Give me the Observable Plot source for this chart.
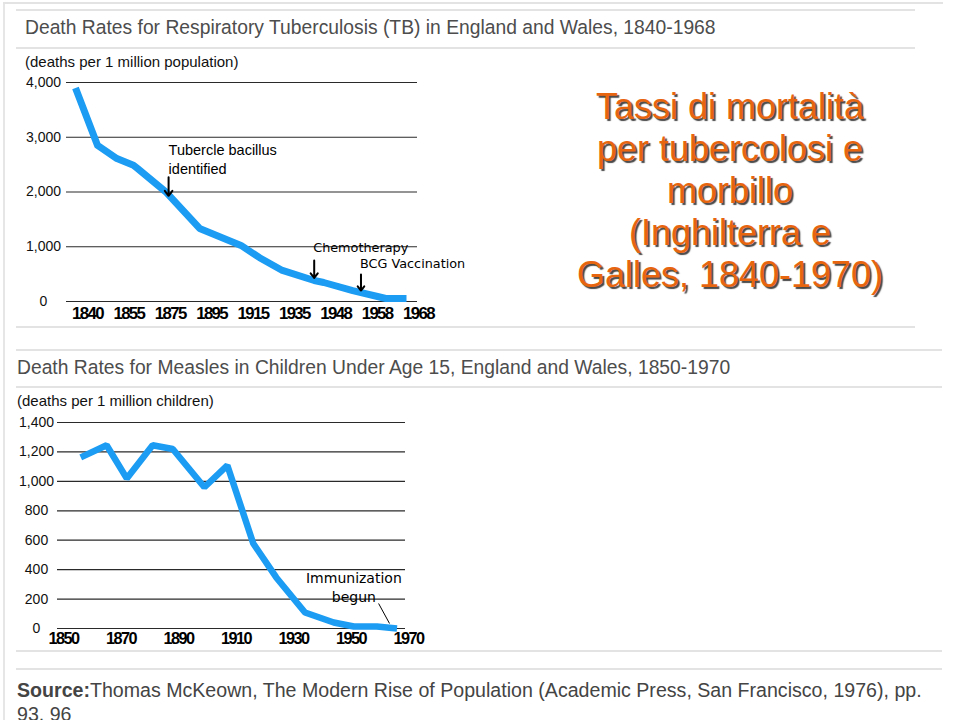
<!DOCTYPE html>
<html>
<head>
<meta charset="utf-8">
<script src="https://cdn.jsdelivr.net/npm/d3@7"></script>
<script src="https://cdn.jsdelivr.net/npm/@observablehq/plot@0.6"></script>
<style>
  html, body { margin: 0; padding: 0; background: #fff; }
  #page { position: relative; width: 960px; height: 720px; overflow: hidden; font-family: "Liberation Sans", Arial, sans-serif; background: #fff; }
  .hl { position: absolute; height: 2px; background: #e3e3e3; }
  .vl { position: absolute; width: 2px; background: #e6e6e6; }
  .title { position: absolute; color: #4d4d4d; font-size: 19.3px; white-space: nowrap; }
  .unit { position: absolute; color: #111; font-size: 15px; white-space: nowrap; }
  #slideTitle { position: absolute; left: 530px; width: 400px; top: 86px; text-align: center; font-size: 36px; line-height: 42px; color: #e8650f; text-shadow: 2px 2px 1px rgba(40,40,40,0.85); }
  #source { position: absolute; left: 17px; top: 678px; white-space: nowrap; font-family: "Liberation Sans", Arial, sans-serif; font-size: 19.6px; line-height: 24px; color: #444; }
  .chart { position: absolute; }
  .chart [aria-label="x-axis tick label"] text { letter-spacing: -1.6px; }
</style>
</head>
<body>
<div id="page">
  <div class="vl" style="left:3px; top:3px; height:717px;"></div>
  <div class="hl" style="left:3px; top:2px; width:940px;"></div>
  <div class="hl" style="left:16px; top:9px; width:899px;"></div>
  <div class="hl" style="left:16px; top:47px; width:899px;"></div>
  <div class="hl" style="left:16px; top:326px; width:899px;"></div>
  <div class="hl" style="left:16px; top:349px; width:926px;"></div>
  <div class="hl" style="left:16px; top:386px; width:926px;"></div>
  <div class="hl" style="left:16px; top:650px; width:926px;"></div>
  <div class="hl" style="left:16px; top:668px; width:926px;"></div>

  <div class="title" style="left:25px; top:17px;">Death Rates for Respiratory Tuberculosis (TB) in England and Wales, 1840-1968</div>
  <div class="unit" style="left:25px; top:53px;">(deaths per 1 million population)</div>
  <div class="chart" id="tb" style="left:0px; top:50px;"></div>

  <div class="title" style="left:17px; top:357px;">Death Rates for Measles in Children Under Age 15, England and Wales, 1850-1970</div>
  <div class="unit" style="left:17px; top:392px;">(deaths per 1 million children)</div>
  <div class="chart" id="measles" style="left:0px; top:400px;"></div>

  <div id="slideTitle">Tassi di mortalità<br>per tubercolosi e<br>morbillo<br>(Inghilterra e<br>Galles, 1840-1970)</div>

  <div id="source"><b>Source:</b>Thomas McKeown, The Modern Rise of Population (Academic Press, San Francisco, 1976), pp.<br>93, 96</div>
</div>
<script>
// ---------- Tuberculosis (deaths per 1 million population) ----------
const tbYears = [1840, 1848, 1855, 1863, 1865, 1879, 1895, 1915, 1924, 1935, 1945, 1948, 1955, 1961, 1963, 1968];
const tbRates = [3900, 2850, 2610, 2490, 2430, 1990, 1335, 1024, 800, 567, 384, 347, 200, 91, 55, 55];
const tbXTicks = [1840, 1855, 1875, 1895, 1915, 1935, 1948, 1958, 1968];
const tbYTicks = [0, 1000, 2000, 3000, 4000];
const tbEventYears = [1880, 1945, 1957];
const tbEventLabels = ["Tubercle bacillus\nidentified", "Chemotherapy", "BCG Vaccination"];
const tbEventArrowTop = [2270, 750, 495];
const tbEventArrowTip = [1930, 430, 200];
const tbEventLabelY = [2605, 987, 695];

// ---------- Measles (deaths per 1 million children) ----------
const measlesYears = [1856, 1865, 1872, 1881, 1888, 1899, 1907, 1916, 1924, 1934, 1944, 1951, 1959, 1966];
const measlesRates = [1163, 1245, 1020, 1245, 1220, 960, 1108, 578, 347, 109, 41, 14, 14, 0];
const measlesXTicks = [1850, 1870, 1890, 1910, 1930, 1950, 1970];
const measlesYTicks = [0, 200, 400, 600, 800, 1000, 1200, 1400];
const measlesNoteLabel = "Immunization\nbegun";
const measlesNoteYear = 1951;
const measlesNoteY = 289;
const measlesLeaderYears = [1959.6, 1963.4];
const measlesLeaderRates = [170, 34];

const blue = "#1c9cf2";
const gridColor = "#2a2a2a";
const sans = "'Liberation Sans', Arial, sans-serif";
const commas = d3.format(",d");

const tbData = tbYears.map((y, i) => ({year: y, rate: tbRates[i]}));
const tbEvents = tbEventYears.map((y, i) => ({year: y, label: tbEventLabels[i], top: tbEventArrowTop[i], tip: tbEventArrowTip[i], ly: tbEventLabelY[i]}));
const measlesData = measlesYears.map((y, i) => ({year: y, rate: measlesRates[i]}));

// tick labels on the TB chart are evenly spaced though the years are not: piecewise scale
const tbLeft = 75, tbRight = 406;
const tbRange = tbXTicks.map((d, i) => tbLeft + i * (tbRight - tbLeft) / (tbXTicks.length - 1));

const tb = Plot.plot({
  width: 480, height: 280,
  marginTop: 32, marginBottom: 29, marginLeft: 66, marginRight: 63,
  x: {type: "linear", domain: tbXTicks, range: tbRange, label: null},
  y: {domain: [0, 4000], label: null},
  style: {fontFamily: sans, fontSize: "14px", background: "transparent", overflow: "visible", color: "#111"},
  marks: [
    Plot.ruleY(tbYTicks, {stroke: gridColor, strokeWidth: 1.2}),
    Plot.line(tbData, {x: "year", y: "rate", stroke: blue, strokeWidth: 7, strokeLinejoin: "round", strokeLinecap: "butt"}),
    Plot.axisY({ticks: tbYTicks, tickSize: 0, tickPadding: 23, textAnchor: "middle", tickFormat: commas, fontSize: 14, label: null}),
    Plot.axisX({ticks: tbXTicks, tickSize: 0, tickPadding: 6, dx: 12, tickFormat: d => String(d), fontSize: 16.8, fontWeight: "bold", fontFamily: sans, fill: "#000", label: null}),
    Plot.arrow(tbEvents, {x1: "year", x2: "year", y1: "top", y2: "tip", stroke: "#000", strokeWidth: 2, headLength: 8, headAngle: 75}),
    Plot.text(tbEvents.slice(0, 1), {x: "year", y: "ly", text: "label", textAnchor: "start", fontFamily: sans, fontSize: 14.5, lineHeight: 1.3, fill: "#000"}),
    Plot.text(tbEvents.slice(1), {x: "year", y: "ly", text: "label", textAnchor: "start", dx: -1, fontFamily: "'DejaVu Sans', sans-serif", fontSize: 12.8, fill: "#000"})
  ]
});
document.getElementById("tb").appendChild(tb);

const measles = Plot.plot({
  width: 480, height: 260,
  marginTop: 22, marginBottom: 32, marginLeft: 57, marginRight: 75,
  x: {domain: [1850, 1970], range: [63, 408], label: null},
  y: {domain: [0, 1400], label: null},
  style: {fontFamily: sans, fontSize: "14px", background: "transparent", overflow: "visible", color: "#111"},
  marks: [
    Plot.ruleY(measlesYTicks, {stroke: gridColor, strokeWidth: 1.2}),
    Plot.line(measlesData, {x: "year", y: "rate", stroke: blue, strokeWidth: 6.5, strokeLinejoin: "miter", strokeLinecap: "butt"}),
    Plot.axisY({ticks: measlesYTicks, tickSize: 0, tickPadding: 21, textAnchor: "middle", tickFormat: commas, fontSize: 14, label: null}),
    Plot.axisX({ticks: measlesXTicks, tickSize: 0, tickPadding: 4, tickFormat: d => String(d), fontSize: 16.3, fontWeight: "bold", fontFamily: sans, fill: "#000", label: null}),
    Plot.text([measlesNoteLabel], {x: () => measlesNoteYear, y: () => measlesNoteY, text: d => d, fontFamily: "'DejaVu Sans', sans-serif", fontSize: 14, lineHeight: 1.36, fill: "#000"}),
    Plot.link([0], {x1: () => measlesLeaderYears[0], y1: () => measlesLeaderRates[0], x2: () => measlesLeaderYears[1], y2: () => measlesLeaderRates[1], stroke: "#000", strokeWidth: 1})
  ]
});
document.getElementById("measles").appendChild(measles);
</script>
</body>
</html>
